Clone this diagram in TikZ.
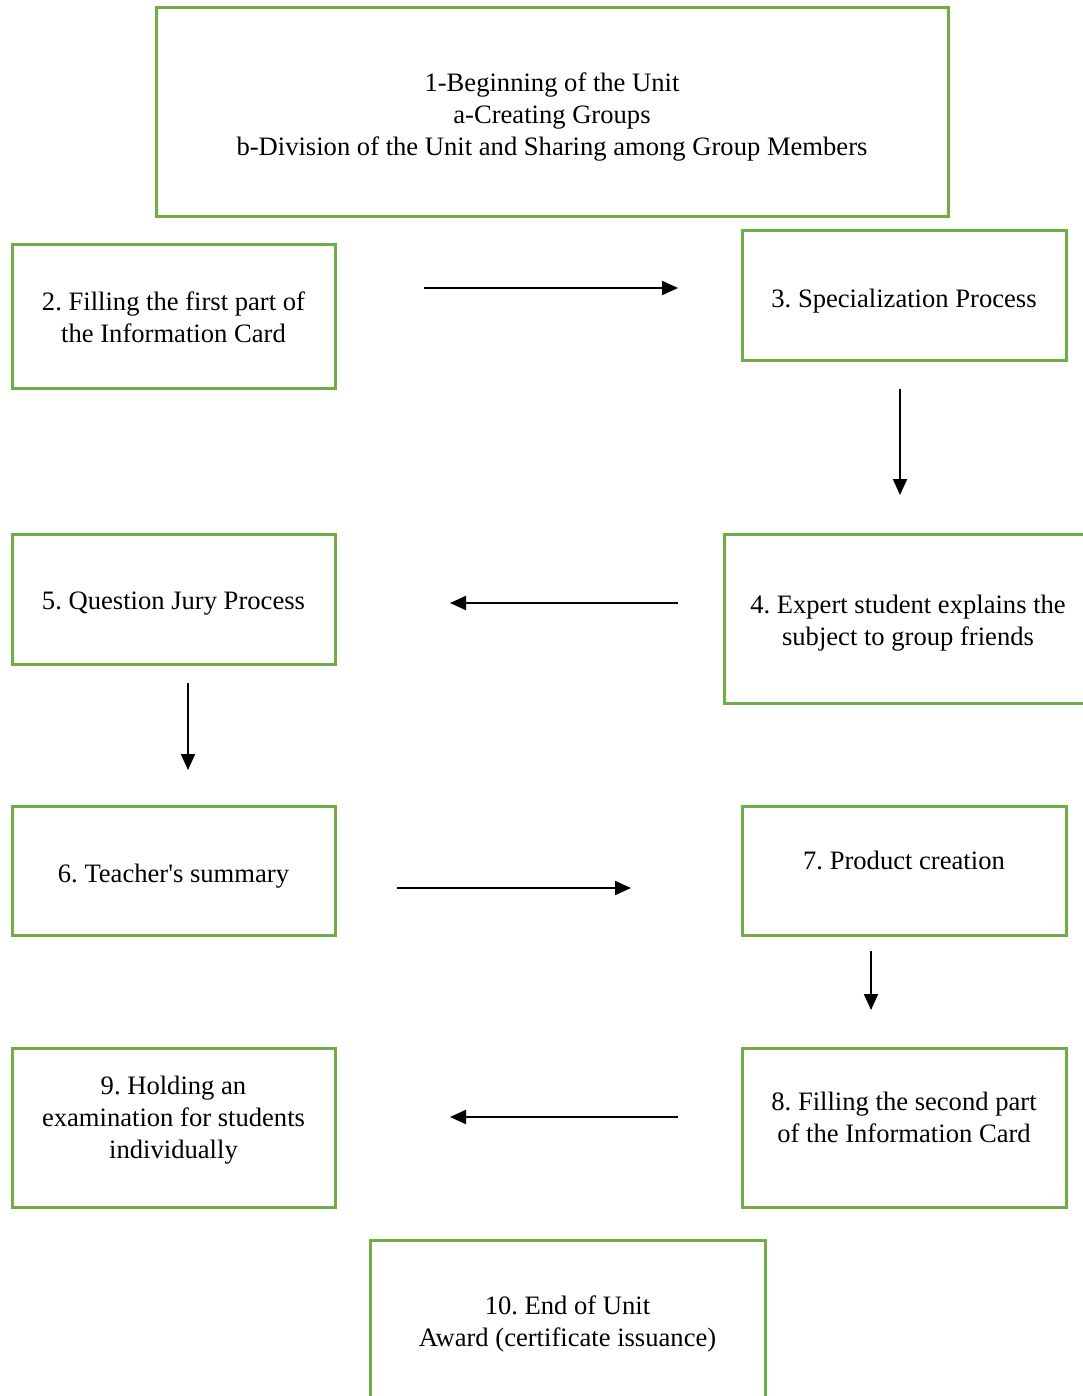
\documentclass[tikz,border=0pt]{standalone}
\usepackage{fontspec}
\setmainfont{Liberation Serif}
\usetikzlibrary{arrows.meta}
\definecolor{boxgreen}{HTML}{70AD47}
\tikzset{
  box/.style={draw=boxgreen, line width=3pt, rectangle, inner sep=0pt},
  txt/.style={align=center, inner sep=0pt, font=\fontsize{26.6}{31.8}\selectfont},
  arr/.style={line width=2pt, -{Triangle[length=16pt,width=14pt]}}
}
\begin{document}
\frenchspacing
\begin{tikzpicture}[x=1pt,y=-1pt]
\useasboundingbox (0,0) rectangle (1083,1396);
\clip (0,0) rectangle (1083,1396);
% boxes
\node[box, minimum width=792pt, minimum height=209pt] (b1) at (552,112.5) {};
\node[box, minimum width=323pt, minimum height=143pt] (b2) at (173.5,316.5) {};
\node[box, minimum width=324pt, minimum height=129pt] (b3) at (904,295.5) {};
\node[box, minimum width=368pt, minimum height=169pt] (b4) at (908,618.5) {};
\node[box, minimum width=323pt, minimum height=130pt] (b5) at (173.5,599) {};
\node[box, minimum width=323pt, minimum height=129pt] (b6) at (173.5,870.5) {};
\node[box, minimum width=324pt, minimum height=129pt] (b7) at (904,870.5) {};
\node[box, minimum width=324pt, minimum height=159pt] (b8) at (904,1127.5) {};
\node[box, minimum width=323pt, minimum height=159pt] (b9) at (173.5,1127.5) {};
\node[box, minimum width=395pt, minimum height=200pt] (b10) at (567.5,1340) {};
% texts
\node[txt] (t1) at (552,117) {1-Beginning of the Unit\\a-Creating Groups\\b-Division of the Unit and Sharing among Group Members};
\node[txt] (t2) at (173.5,317) {2. Filling the first part of\\the Information Card};
\node[txt] (t3) at (904,301) {3. Specialization Process};
\node[txt] (t4) at (908,623) {4. Expert student explains the\\subject to group friends};
\node[txt] (t5) at (173.5,604) {5. Question Jury Process};
\node[txt] (t6) at (173.5,876) {6. Teacher\textquotesingle s summary};
\node[txt] (t7) at (904,860) {7. Product creation};
\node[txt] (t8) at (904,1117) {8. Filling the second part\\of the Information Card};
\node[txt] (t9) at (173.5,1120) {9. Holding an\\examination for students\\individually};
\node[txt] (t10) at (567.5,1324) {10. End of Unit\\Award (certificate issuance)};
% arrow endpoints
\coordinate (a23s) at (424,288); \coordinate (a23e) at (678,288);
\coordinate (a34s) at (900,389); \coordinate (a34e) at (900,495);
\coordinate (a45s) at (678,603); \coordinate (a45e) at (450,603);
\coordinate (a56s) at (188,683); \coordinate (a56e) at (188,770);
\coordinate (a67s) at (397,888); \coordinate (a67e) at (631,888);
\coordinate (a78s) at (871,951); \coordinate (a78e) at (871,1010);
\coordinate (a89s) at (678,1117); \coordinate (a89e) at (450,1117);
\draw[arr] (a23s) -- (a23e);
\draw[arr] (a34s) -- (a34e);
\draw[arr] (a45s) -- (a45e);
\draw[arr] (a56s) -- (a56e);
\draw[arr] (a67s) -- (a67e);
\draw[arr] (a78s) -- (a78e);
\draw[arr] (a89s) -- (a89e);
\end{tikzpicture}
\end{document}
